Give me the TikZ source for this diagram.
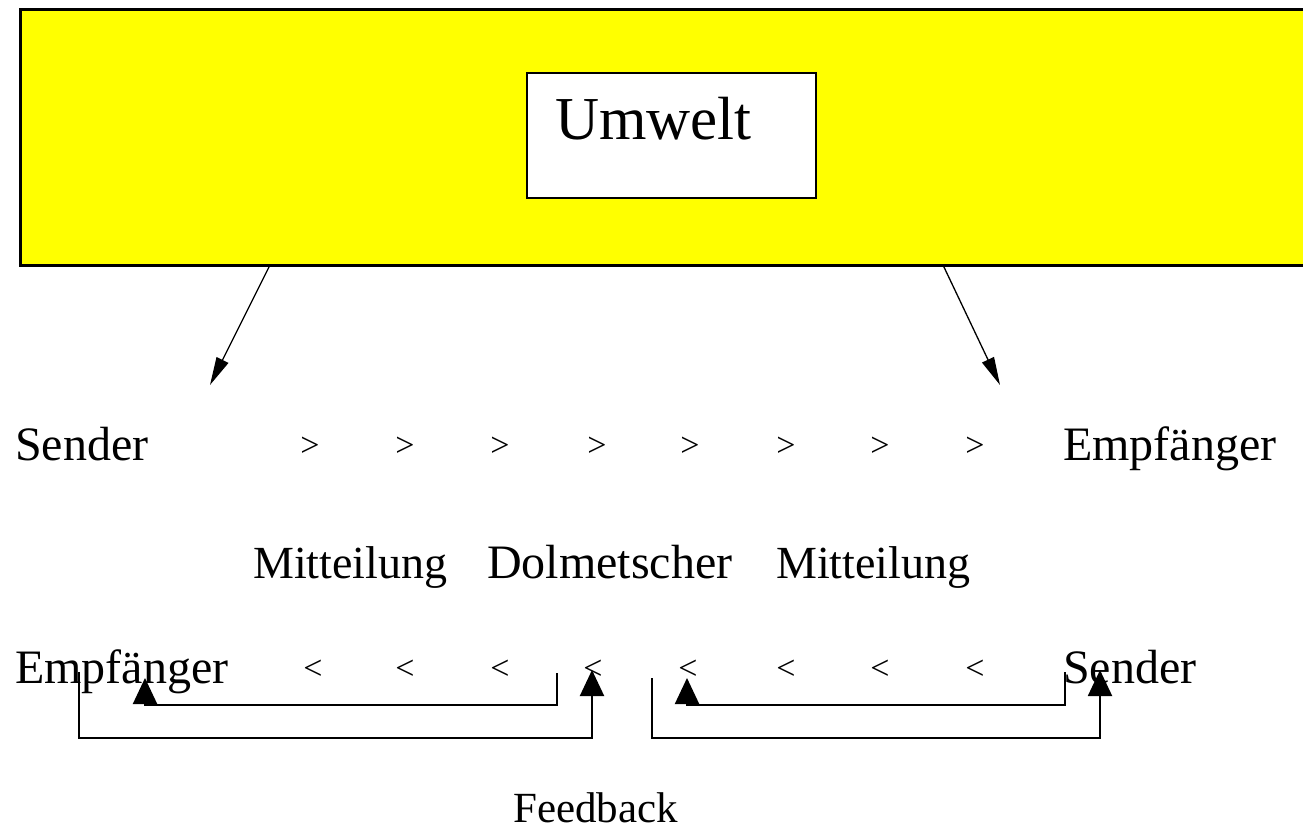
\documentclass[tikz,border=0pt]{standalone}
\usepackage{fontspec}
\setmainfont{Liberation Serif}
\usetikzlibrary{arrows.meta}
\definecolor{envyellow}{RGB}{255,255,0}
\tikzset{
  txt/.style={anchor=base west, inner sep=0pt, font=\fontsize{48}{50}\selectfont},
  sym/.style={anchor=base, inner sep=0pt, font=\fontsize{34}{36}\selectfont},
  envbox/.style={draw=black, line width=3pt, fill=envyellow, minimum width=1300pt, minimum height=255pt, inner sep=0pt},
  umbox/.style={draw=black, line width=2.5pt, fill=white, minimum width=289pt, minimum height=125pt, inner sep=0pt},
  envarr/.style={line width=1.3pt, -{Triangle[width=13pt,length=28pt]}},
  fbarr/.style={line width=2pt, -{Triangle[width=24pt,length=26pt]}}
}
\begin{document}
\begin{tikzpicture}[x=1pt,y=-1pt]
\useasboundingbox (0,0) rectangle (1303,829);
% environment
\node[envbox] (env) at (670,137.5) {};
\node[umbox] (umw) at (671.5,135.5) {};
\node[anchor=base west, inner sep=0pt, font=\fontsize{61}{63}\selectfont] (umtxt) at (555,140) {Umwelt};
% arrows from environment
\coordinate (e1) at (270,265);
\coordinate (e2) at (943,265);
\coordinate (t1) at (210,385);
\coordinate (t2) at (1000,385);
\draw[envarr] (e1) -- (t1);
\draw[envarr] (e2) -- (t2);
% row 1
\node[txt] (send1) at (15,460) {Sender};
\foreach \x [count=\i] in {310,405,500,597,690,786,880,975}
  \node[sym] (gt\i) at (\x,456) {>};
\node[txt] (emp1) at (1063,460) {Empfänger};
% row 2
\node[txt, font=\fontsize{46}{48}\selectfont] (mit1) at (253,578) {Mitteilung};
\node[txt] (dolm) at (487,578) {Dolmetscher};
\node[txt, font=\fontsize{46}{48}\selectfont] (mit2) at (776,578) {Mitteilung};
% row 3
\node[txt] (emp2) at (15,683) {Empfänger};
\foreach \x [count=\i] in {313,405,500,593,688,786,880,975}
  \node[sym] (lt\i) at (\x,679) {<};
\node[txt] (send2) at (1063,683) {Sender};
% feedback loops
\coordinate (a1) at (557,673);
\coordinate (a2) at (557,705);
\coordinate (a3) at (145,705);
\coordinate (a4) at (145,678);
\draw[fbarr] (a1) -- (a2) -- (a3) -- (a4);
\coordinate (b1) at (79,672);
\coordinate (b2) at (79,738);
\coordinate (b3) at (592,738);
\coordinate (b4) at (592,670);
\draw[fbarr] (b1) -- (b2) -- (b3) -- (b4);
\coordinate (c1) at (1065,672);
\coordinate (c2) at (1065,705);
\coordinate (c3) at (687,705);
\coordinate (c4) at (687,678);
\draw[fbarr] (c1) -- (c2) -- (c3) -- (c4);
\coordinate (d1) at (652,678);
\coordinate (d2) at (652,738);
\coordinate (d3) at (1100,738);
\coordinate (d4) at (1100,670);
\draw[fbarr] (d1) -- (d2) -- (d3) -- (d4);
% feedback label
\node[txt, font=\fontsize{43}{45}\selectfont] (fb) at (513,822) {Feedback};
\end{tikzpicture}
\end{document}
